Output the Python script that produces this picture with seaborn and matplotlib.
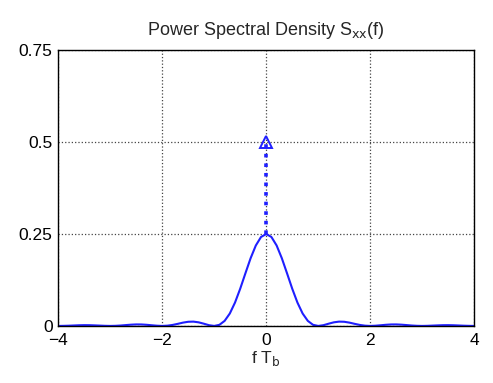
import matplotlib
matplotlib.use("Agg")
import matplotlib.pyplot as plt
import numpy as np
import pandas as pd
import seaborn as sns

# normalised frequency f*Tb, every 0.1
freq = np.round(np.arange(-40, 41) / 10.0, 1)

# continuous part of the PSD, right half (0 .. 4)
psd_right = [
    0.2500, 0.2419, 0.2188, 0.1842, 0.1432, 0.1013, 0.0636, 0.0338, 0.0137, 0.0030,
    0.0000, 0.0020, 0.0061, 0.0098, 0.0117, 0.0113, 0.0090, 0.0057, 0.0027, 0.0007,
    0.0000, 0.0006, 0.0018, 0.0031, 0.0040, 0.0041, 0.0034, 0.0023, 0.0011, 0.0003,
    0.0000, 0.0003, 0.0009, 0.0015, 0.0020, 0.0021, 0.0018, 0.0012, 0.0006, 0.0002,
    0.0000,
]
psd = psd_right[:0:-1] + psd_right

# discrete (impulse) part
impulse_f = [0.0]
impulse_base = [0.25]
impulse_top = [0.5]

x_ticks = [-4, -2, 0, 2, 4]
x_tick_labels = ["\u22124", "\u22122", "0", "2", "4"]
y_ticks = [0, 0.25, 0.5, 0.75]
y_tick_labels = ["0", "0.25", "0.5", "0.75"]

df = pd.DataFrame({"f": freq, "S": psd})

sns.set_style("white")
plt.rcParams["font.family"] = ["Liberation Sans", "DejaVu Sans"]

fig = plt.figure(figsize=(4.93, 3.83), dpi=100)
ax = fig.add_axes([0.118, 0.149, 0.844, 0.720])

blue = "#1f1fff"
sns.lineplot(data=df, x="f", y="S", ax=ax, color=blue, linewidth=1.5)
for f0, b, t in zip(impulse_f, impulse_base, impulse_top):
    ax.plot([f0, f0], [b, t], color=blue, linestyle=":", linewidth=2.6)
    ax.plot([f0], [t], marker="^", markersize=8, markerfacecolor="none",
            markeredgecolor=blue, markeredgewidth=1.4, linestyle="none")

ax.set_xlim(-4, 4)
ax.set_ylim(0, 0.75)
ax.set_xticks(x_ticks)
ax.set_xticklabels(x_tick_labels)
ax.set_yticks(y_ticks)
ax.set_yticklabels(y_tick_labels)
ax.grid(True, linestyle=":", color="#444444", linewidth=0.9)
ax.tick_params(direction="in", length=4, width=0.8, labelsize=12.5, colors="black")
ax.tick_params(axis="x", pad=5)
ax.tick_params(axis="y", pad=4)
for s in ax.spines.values():
    s.set_color("black")
    s.set_linewidth(1.0)

ax.set_xlabel("f T$_\\mathrm{b}$", fontsize=12.5, labelpad=1)
ax.set_ylabel("")
ax.set_title("Power Spectral Density S$_\\mathrm{xx}$(f)", fontsize=13, pad=11)

fig.savefig("out.png", dpi=100)
